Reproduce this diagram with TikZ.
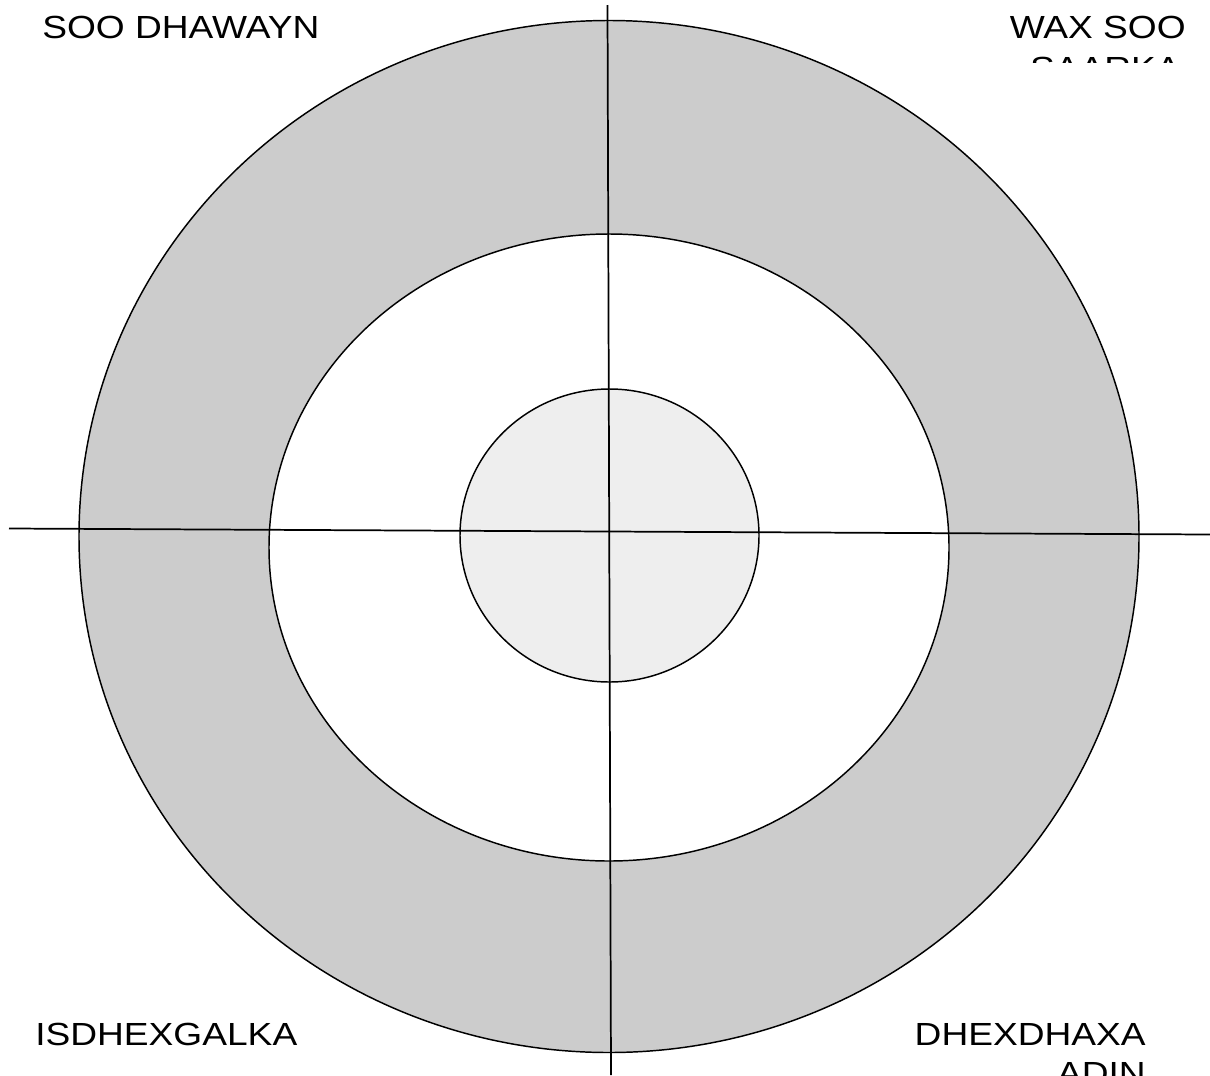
\documentclass[tikz,border=0pt]{standalone}
\usepackage{fontspec}
\setmainfont{Liberation Sans}
\newfontfamily\lblfont[FakeStretch=1.16]{Liberation Sans}
\definecolor{ringgray}{HTML}{CCCCCC}
\definecolor{coregray}{HTML}{EEEEEE}
\tikzset{
  ring/.style={draw=black, line width=1.1pt},
  axis/.style={draw=black, line width=1.3pt},
  lbl/.style={inner sep=0pt, font=\lblfont\fontsize{24pt}{29pt}\selectfont},
}
\begin{document}
\begin{tikzpicture}[x=0.75pt,y=-0.75pt]
\useasboundingbox (0,0) rectangle (1210,1075);
\clip (0,0) rectangle (1210,1075);
% rings
\path[ring, fill=ringgray] (609,536.5) ellipse [x radius=530, y radius=516];
\path[ring, fill=white] (609,547.5) ellipse [x radius=340, y radius=313.5];
\path[ring, fill=coregray] (609.5,535.5) ellipse [x radius=149.5, y radius=146.5];
% axes
\coordinate (hl) at (9,528.5);
\coordinate (hr) at (1210,534.5);
\coordinate (vt) at (607.5,5);
\coordinate (vb) at (611,1075);
\draw[axis] (hl) -- (hr);
\draw[axis] (vt) -- (vb);
% labels
\node[lbl, anchor=base west] (tl) at (42,38) {SOO DHAWAYN};
\node[lbl, anchor=base east] (tr1) at (1186,38) {WAX SOO};
\begin{scope}
\clip (900,0) rectangle (1210,62);
\node[lbl, anchor=base east] (tr2) at (1181,79) {SAARKA};
\end{scope}
\node[lbl, anchor=base west] (bl) at (35,1045) {ISDHEXGALKA};
\node[lbl, anchor=base east] (br1) at (1146,1045) {DHEXDHAXA};
\node[lbl, anchor=base east] (br2) at (1146,1084) {ADIN};
\end{tikzpicture}
\end{document}
